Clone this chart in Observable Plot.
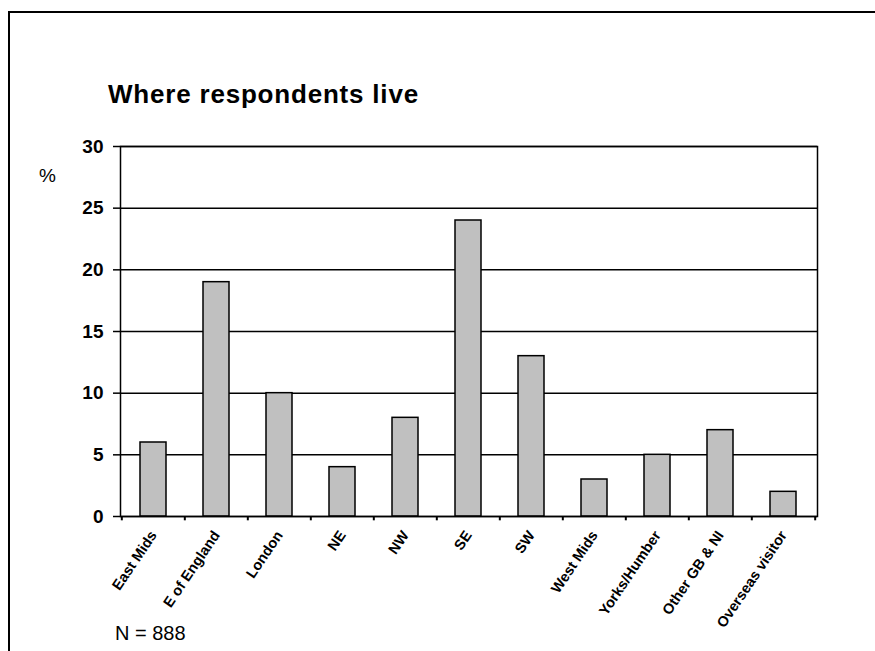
<!DOCTYPE html>
<html>
<head>
<meta charset="utf-8">
<script src="https://cdn.jsdelivr.net/npm/d3@7"></script>
<script src="https://cdn.jsdelivr.net/npm/@observablehq/plot@0.6"></script>
<style>
  html, body { margin: 0; padding: 0; background: #fff; }
  #wrap { position: relative; width: 875px; height: 651px; overflow: hidden; font-family: "Liberation Sans", Arial, sans-serif; }
  #frame { position: absolute; left: 8px; top: 11px; width: 1000px; height: 1000px; border-left: 2px solid #000; border-top: 2px solid #000; box-sizing: border-box; }
  .lbl { position: absolute; white-space: nowrap; color: #000; }
  #title { left: 108px; top: 81px; font-size: 26px; line-height: 26px; font-weight: bold; letter-spacing: 0.8px; }
  #unit { left: 39px; top: 166px; font-size: 19px; line-height: 19px; }
  #note { left: 115px; top: 623px; font-size: 20px; line-height: 20px; }
  #chart { position: absolute; left: 0; top: 0; }
</style>
</head>
<body>
<div id="wrap">
  <div id="chart"></div>
  <div id="frame"></div>
  <div class="lbl" id="title">Where respondents live</div>
  <div class="lbl" id="unit">%</div>
  <div class="lbl" id="note">N = 888</div>
</div>
<script>
const regions = ["East Mids", "E of England", "London", "NE", "NW", "SE", "SW", "West Mids", "Yorks/Humber", "Other GB & NI", "Overseas visitor"];
const percents = [6, 19, 10, 4, 8, 24, 13, 3, 5, 7, 2];
const yTicks = [0, 5, 10, 15, 20, 25, 30];

const data = regions.map((r, i) => ({region: r, pct: percents[i]}));

const W = 875, H = 651;
const mL = 120, mR = 58, mT = 146, mB = 135;
const step = (W - mL - mR) / regions.length;

const chart = Plot.plot({
  width: W,
  height: H,
  marginLeft: mL,
  marginRight: mR,
  marginTop: mT,
  marginBottom: mB,
  style: {fontFamily: "'Liberation Sans', Arial, sans-serif", background: "transparent", color: "#000"},
  x: {type: "band", domain: regions, paddingInner: 0.58, paddingOuter: 0.29},
  y: {domain: [0, 30]},
  marks: [
    Plot.gridY(yTicks, {stroke: "#000", strokeOpacity: 1, strokeWidth: 1.5}),
    Plot.barY(data, {x: "region", y: "pct", fill: "#c0c0c0", stroke: "#000", strokeWidth: 1.5}),
    Plot.frame({stroke: "#000", strokeWidth: 1.5}),
    Plot.axisY({ticks: yTicks, tickSize: 7, tickPadding: 10, fontSize: 19, fontWeight: "bold", label: null, stroke: "#000", strokeWidth: 1.5}),
    Plot.axisX({tickSize: 0, tickRotate: -56, tickPadding: 16, fontSize: 14.5, fontWeight: "bold", label: null}),
    Plot.ruleX(regions, {x: d => d, y1: 0, y2: -0.35, dx: -step / 2, stroke: "#000", strokeWidth: 2}),
    Plot.ruleX([regions[regions.length - 1]], {x: d => d, y1: 0, y2: -0.35, dx: step / 2, stroke: "#000", strokeWidth: 2})
  ]
});
document.getElementById("chart").appendChild(chart);
</script>
</body>
</html>
